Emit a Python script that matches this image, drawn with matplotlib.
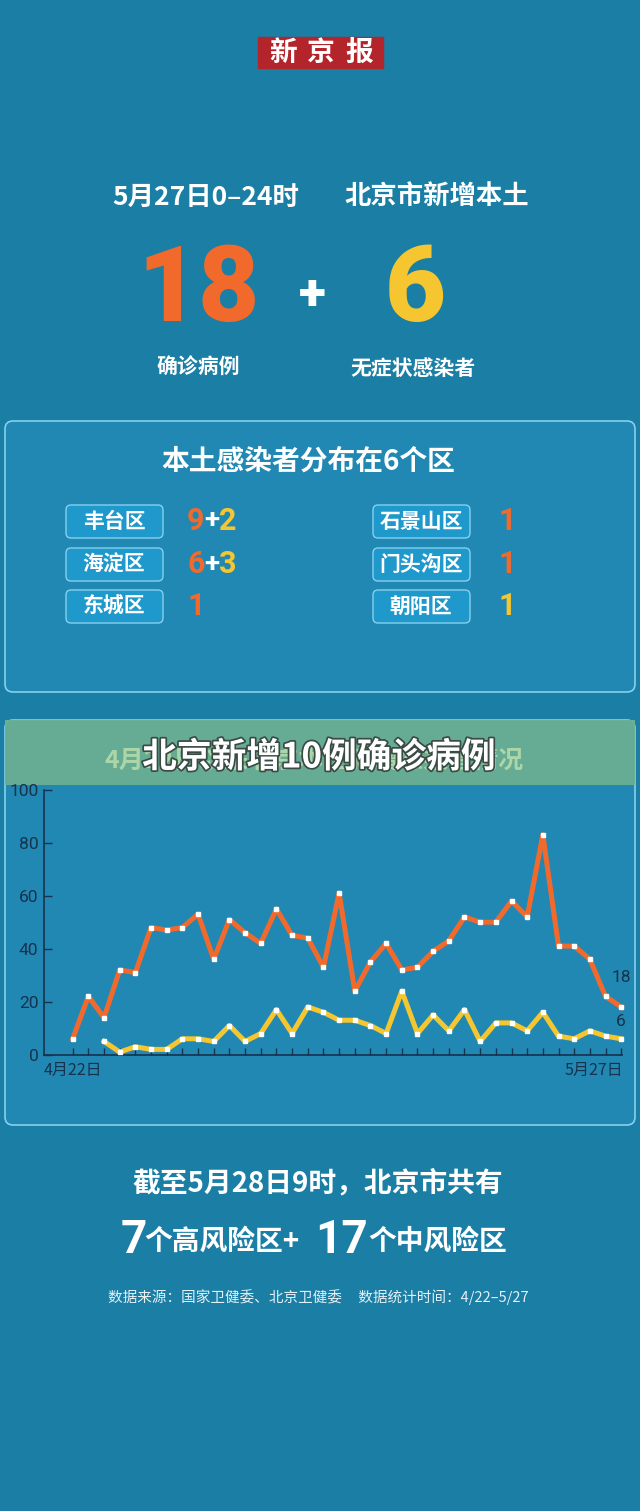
import numpy as np
import matplotlib
matplotlib.use("Agg")
import matplotlib.pyplot as plt
from matplotlib.patches import FancyBboxPatch, Rectangle
import matplotlib.patheffects as pe

plt.rcParams['font.family'] = ['Noto Sans CJK SC', 'DejaVu Sans']

# 数据
confirmed = [6, 22, 14, 32, 31, 48, 47, 48, 53, 36, 51, 46, 42, 55, 45, 44, 33, 61,
             24, 35, 42, 32, 33, 39, 43, 52, 50, 50, 58, 52, 83, 41, 41, 36, 22, 18]
asymptomatic = [np.nan, np.nan, 5, 1, 3, 2, 2, 6, 6, 5, 11, 5, 8, 17, 8, 18, 16, 13,
                13, 11, 8, 24, 8, 15, 9, 17, 5, 12, 12, 9, 16, 7, 6, 9, 7, 6]
days = np.arange(len(confirmed))
first_label = '4月22日'
last_label = '5月27日'

districts_left = ['丰台区', '海淀区', '东城区']
left_conf = ['9', '6', '1']
left_asym = ['2', '3', '']
districts_right = ['石景山区', '门头沟区', '朝阳区']
right_vals = ['1', '1', '1']
right_is_conf = [True, True, False]

BG = '#1a7ea5'
PANEL = '#2188b3'
EDGE = '#86d0ee'
ORANGE = '#f26a2b'
YELLOW = '#f5c62f'
NAVY = '#17324d'
W = 'white'
NUMFONT = ['Roboto', 'DejaVu Sans']

fig = plt.figure(figsize=(6.4, 15.11), dpi=100, facecolor=BG)
bg = fig.add_axes([0, 0, 1, 1])
bg.set_xlim(0, 640)
bg.set_ylim(1511, 0)
bg.axis('off')
bg.set_facecolor(BG)

# 报头
bg.add_patch(Rectangle((258, 37), 125, 31, color='#b3242b'))
for ch, x in zip('新京报', [283, 321, 359]):
    bg.text(x, 53, ch, color=W, fontsize=20, fontweight='bold', ha='center', va='center')

# 标题
bg.text(206, 197, '5月27日0–24时', color=W, fontsize=19, fontweight='bold', ha='center', va='center')
bg.text(437, 197, '北京市新增本土', color=W, fontsize=19, fontweight='bold', ha='center', va='center')

# 大数字
bg.text(199, 293, '18', color=ORANGE, fontsize=76, fontweight='black', family=NUMFONT,
        ha='center', va='center')
bg.text(312, 296, '+', color=W, fontsize=36, fontweight='black', family=NUMFONT,
        ha='center', va='center')
bg.text(415, 293, '6', color=YELLOW, fontsize=76, fontweight='black', family=NUMFONT,
        ha='center', va='center')
bg.text(198, 367, '确诊病例', color=W, fontsize=15, fontweight='bold', ha='center', va='center')
bg.text(413, 368, '无症状感染者', color=W, fontsize=15, fontweight='bold', ha='center', va='center')

# 分区面板
bg.add_patch(FancyBboxPatch((5, 421), 630, 271, boxstyle='round,pad=0,rounding_size=8',
                            facecolor=PANEL, edgecolor=EDGE, linewidth=1.2))
bg.text(308, 462, '本土感染者分布在6个区', color=W, fontsize=20, fontweight='bold',
        ha='center', va='center')

rows_y = [521, 564, 606]
for i, y in enumerate(rows_y):
    for bx in (66, 373):
        bg.add_patch(FancyBboxPatch((bx, y - 16), 97, 33, boxstyle='round,pad=0,rounding_size=5',
                                    facecolor='#1f99cc', edgecolor=EDGE, linewidth=1.0))
    bg.text(114, y, districts_left[i], color=W, fontsize=15, fontweight='bold', ha='center', va='center')
    bg.text(421, y, districts_right[i], color=W, fontsize=15, fontweight='bold', ha='center', va='center')
    bg.text(196, y, left_conf[i], color=ORANGE, fontsize=22, fontweight='bold', family=NUMFONT,
            ha='center', va='center')
    if left_asym[i]:
        bg.text(212, y, '+', color=W, fontsize=20, fontweight='bold', family=NUMFONT,
                ha='center', va='center')
        bg.text(228, y, left_asym[i], color=YELLOW, fontsize=22, fontweight='bold', family=NUMFONT,
                ha='center', va='center')
    bg.text(507, y, right_vals[i], color=ORANGE if right_is_conf[i] else YELLOW,
            fontsize=22, fontweight='bold', family=NUMFONT, ha='center', va='center')

# 图表面板
bg.add_patch(FancyBboxPatch((5, 720), 630, 405, boxstyle='round,pad=0,rounding_size=8',
                            facecolor=PANEL, edgecolor=EDGE, linewidth=1.2))
bg.add_patch(Rectangle((5, 720), 630, 65, facecolor='#6aaf93', alpha=0.95, edgecolor='none'))
bg.text(314, 761, '4月22日以来北京本土新增感染者情况', color='#acd6a8', fontsize=18,
        fontweight='bold', ha='center', va='center')
bg.text(319, 757, '北京新增10例确诊病例', color=W, fontsize=25, fontweight='bold',
        ha='center', va='center',
        path_effects=[pe.withStroke(linewidth=2.5, foreground='#3a4a44')])

# 折线图
ax = fig.add_axes([44 / 640, 1 - 1054.7 / 1511, (622 - 44) / 640, (1054.7 - 789.7) / 1511])
ax.set_facecolor('none')
ax.plot(days, confirmed, color=ORANGE, linewidth=3.6, marker='s', markersize=2.2,
        markerfacecolor=W, markeredgecolor=W, clip_on=False, zorder=3)
ax.plot(days, asymptomatic, color=YELLOW, linewidth=3.6, marker='s', markersize=2.2,
        markerfacecolor=W, markeredgecolor=W, clip_on=False, zorder=3)
ax.set_xlim(-1.83, 35.05)
ax.set_ylim(0, 100)
for s in ('top', 'right'):
    ax.spines[s].set_visible(False)
for s in ('left', 'bottom'):
    ax.spines[s].set_color(NAVY)
    ax.spines[s].set_linewidth(1.2)
ax.set_xticks(days)
ax.set_xticklabels([])
ax.set_yticks([0, 20, 40, 60, 80, 100])
ax.set_yticklabels(['0', '20', '40', '60', '80', '100'], family=NUMFONT)
ax.tick_params(axis='x', direction='in', length=5, width=1, color=NAVY)
ax.tick_params(axis='y', direction='in', length=6, width=1, color=NAVY, labelsize=12.5,
               labelcolor=NAVY, pad=4)
ax.text(0, -6, first_label, color=NAVY, fontsize=11.5, ha='center', va='center')
ax.text(35.1, -6, last_label, color=NAVY, fontsize=11.5, ha='right', va='center')
ax.text(35, 29.3, str(confirmed[-1]), color=NAVY, fontsize=12.5, ha='center', va='center',
        family=NUMFONT)
ax.text(35, 12.7, str(int(asymptomatic[-1])), color=NAVY, fontsize=12.5, ha='center', va='center',
        family=NUMFONT)

# 底部文字
bg.text(318, 1183, '截至5月28日9时，北京市共有', color=W, fontsize=20, fontweight='bold',
        ha='center', va='center')
bg.text(121, 1240, '7', color=W, fontsize=33, fontweight='bold', family=NUMFONT,
        ha='left', va='center')
bg.text(144, 1242, '个高风险区+', color=W, fontsize=20, fontweight='bold', ha='left', va='center')
bg.text(315, 1240, '17', color=W, fontsize=33, fontweight='bold', family=NUMFONT,
        ha='left', va='center')
bg.text(368, 1242, '个中风险区', color=W, fontsize=20, fontweight='bold', ha='left', va='center')
bg.text(318, 1297, '数据来源：国家卫健委、北京卫健委     数据统计时间：4/22–5/27', color='#e4f1f7',
        fontsize=10.5, ha='center', va='center')

fig.savefig('out.png', dpi=100, facecolor=BG)
